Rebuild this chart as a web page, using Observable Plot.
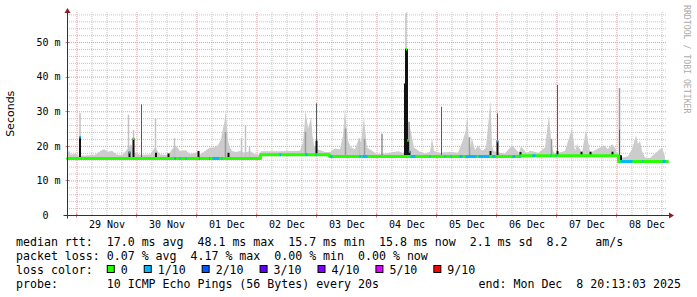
<!DOCTYPE html>
<html><head><meta charset="utf-8">
<script src="https://cdn.jsdelivr.net/npm/d3@7"></script>
<script src="https://cdn.jsdelivr.net/npm/@observablehq/plot@0.6"></script>
<style>
html,body{margin:0;padding:0;background:#fff;}
#chart svg{display:block;}
</style></head><body><div id="chart"></div>
<script>
// ---- time range ----
const startTime = new Date("2025-11-28T20:13:03Z");
const endTime = new Date("2025-12-08T20:13:03Z");

// ---- tick labels ----
const dayTicks = ["2025-11-29T12:00Z","2025-11-30T12:00Z","2025-12-01T12:00Z","2025-12-02T12:00Z","2025-12-03T12:00Z",
  "2025-12-04T12:00Z","2025-12-05T12:00Z","2025-12-06T12:00Z","2025-12-07T12:00Z","2025-12-08T12:00Z"];
const dayLabels = ["29 Nov","30 Nov","01 Dec","02 Dec","03 Dec","04 Dec","05 Dec","06 Dec","07 Dec","08 Dec"];
const yTicks = [0, 10, 20, 30, 40, 50];
const yTickLabels = ["0\u00a0\u00a0", "10 m", "20 m", "30 m", "40 m", "50 m"];

// ---- median rtt (ms), step levels, hours since start ----
const medianHours = [0, 77.2, 104.8, 181.2, 220.4, 240];
const medianValues = [16.5, 17.6, 17.05, 17.3, 15.6, 15.6];

// ---- loss 1/10 patches on the median (hours since start) ----
const blueFrom = [42.8, 44.8, 47.2, 52.6, 56.6, 58.0, 61.6, 84.8, 95.2, 99.2, 105.2, 116.8, 118.0, 137.2, 144.8, 150.8, 153.2, 156.8, 159.2, 164.4, 170.0, 178.0, 180.8, 186.0, 193.2, 195.2, 221.2, 230.0, 238.0];
const blueTo   = [43.4, 45.2, 47.6, 53.0, 57.0, 60.8, 62.0, 85.4, 96.0, 99.6, 106.0, 117.4, 120.0, 139.2, 145.2, 151.2, 153.6, 158.0, 163.6, 168.8, 171.2, 179.2, 181.2, 187.2, 193.6, 195.6, 226.0, 230.4, 239.2];

// ---- median peaks (hours, ms, loss index) ----
const peakHours = [5.0, 24.8, 26.4, 135.6, 136.2, 136.8, 172.0];
const peakValues = [22.6, 18.3, 22.2, 48.1, 21.7, 18.5, 21.5];
const peakLoss = [1, 1, 0, 0, 0, 1, 1];

// ---- smoke haze top (ms) ----
const hazeHours = [0,0.8,1.6,3.2,4.4,7.2,11.2,13.2,14.8,16.4,18,19.6,22,23.6,25.6,27.2,29.2,33.2,35.2,37.2,40.4,42,43.6,45.2,47.6,49.2,51.2,53.2,55.2,57.2,58.8,60.4,61.6,62.4,63.0,63.4,63.8,64.4,65.2,66,67.6,69.2,71.2,73.2,75.2,76.8,
  77.6,85.2,93.2,94.4,95.0,95.4,96.4,97.2,97.6,98.2,98.8,100.4,103.2,
  105.2,107.2,109.2,110.4,111.0,111.2,111.6,112.4,113.6,115.2,116.8,117.6,118.4,118.8,119.2,120.0,123.6,125.6,130.4,132.8,134.4,136.4,136.8,137.6,138.8,141.2,143.2,145.2,146,146.8,149.2,153.2,156.4,158,159.4,160.2,160.6,161.2,162,163.2,164.4,166,167.6,169.4,170,170.6,173.2,175.2,178,180.8,
  181.6,184,185.2,187.2,188.4,191.2,192.8,193.6,194.4,195.2,199.2,202,203.2,204,206,207.6,209.2,210,213.2,214.8,216.4,218,219.6,220.4,
  222,224.4,226,227.6,228.4,229.2,230,231.2,233.2,235.2,236.8,238,239.2,240];
const hazeTop = [17.3,18.8,17.4,17.8,17.2,17.2,17.4,18.4,19.0,18.3,18.6,17.6,17.3,18.5,20.5,18.0,17.4,17.5,19.5,17.6,17.3,19.0,20.0,18.5,18.7,17.6,18.0,17.5,18.5,19.5,19.5,20.2,22.0,25.0,27.0,29.9,27.5,21.5,19.5,18.5,18.2,18.5,18.0,18.5,17.6,17.4,
  18.4,18.4,18.6,21.0,26.0,30.3,25.0,27.0,28.5,23.0,20.0,19.0,18.2,
  18.2,19.2,19.0,23.0,29.0,31.0,27.0,21.5,19.5,19.0,22.2,21.0,26.0,28.4,25.0,19.5,17.8,17.6,18.2,18.4,17.8,22.0,27.0,24.0,19.5,18.3,17.8,18.3,22.2,18.5,18.0,18.2,18.0,21.0,24.0,28.9,23.0,19.5,22.2,18.8,20.2,18.4,19.5,33.2,20.0,18.5,18.0,17.8,20.2,
  18.0,19.8,17.8,18.6,18.3,17.9,19.5,28.9,22.0,18.5,17.8,18.5,25.1,18.5,20.5,18.0,24.6,18.3,18.3,19.5,20.2,19.0,20.5,19.0,
  16.4,16.6,17.0,19.0,23.0,20.5,21.5,18.5,16.6,16.5,17.8,18.8,19.5,17.0];

// ---- individual smoke spikes (hours, top ms, shade) ----
const spikeHours = [5.0,5.0,24.4,24.8,26.4,26.4,29.6,35.2,35.4,40.4,42.8,52.4,63.2,64.4,69.6,71.2,72.8,77.2,95.2,99.6,99.6,111.2,116.8,118.8,125.8,135.0,135.4,135.4,135.8,136.2,136.6,136.8,149.6,160.8,169.2,172.0,172.0,181.2,193.6,196.0,196.0,205.6,209.2,218.0,220.8,220.8,221.4];
const spikeTop   = [29.5,22.6,29.0,18.3,24.6,22.2,32.0,28.0,18.0,17.8,22.2,18.5,24.0,18.0,22.3,26.0,19.7,17.6,24.0,32.3,21.5,25.0,22.2,22.0,23.5,38.0,58.4,48.1,48.0,21.7,27.0,18.5,31.3,22.5,18.5,29.4,21.5,18.2,22.0,37.6,18.5,18.3,18.3,18.3,36.7,24.6,17.3];
const spikeShade = ["light","black","light","black","light","black","dark","light","black","black","light","black","mid","black","light","light","light","black","mid","dark","black","mid","light","mid","dark","black","light","black","black","black","mid","black","dark","mid","black","dark","black","black","mid","dark","black","black","black","black","mid","dark","black"];

// ---- legend ----
const lossLabels = ["0","1/10","2/10","3/10","4/10","5/10","9/10"];
const lossColors = ["#26ff00","#00b8ff","#0059ff","#5e00ff","#7e00ff","#dd00ff","#ff0000"];
const statLines = [
  "median rtt:  17.0 ms avg  48.1 ms max  15.7 ms min  15.8 ms now  2.1 ms sd  8.2    am/s",
  "packet loss: 0.07 % avg  4.17 % max  0.00 % min  0.00 % now"
];
const probeLine = "probe:       10 ICMP Echo Pings (56 Bytes) every 20s";
const endLine = "end: Mon Dec  8 20:13:03 2025";

// ---- build ----
const H = h => new Date(startTime.getTime() + h * 3600e3);
const baseAt = h => { let v = medianValues[0]; medianHours.forEach((mh, i) => { if (h >= mh) v = medianValues[i]; }); return v; };
const shadeColor = {light: "#c2c2c2", mid: "#9a9a9a", dark: "#5a5a5a", black: "#111111"};
const shadeWidth = {light: 1.5, mid: 1.5, dark: 1, black: 2};

const hazeData = hazeHours.map((h, i) => ({t: H(h), base: baseAt(h), top: hazeTop[i]}));
const spikeData = spikeHours.map((h, i) => ({t: H(h), base: baseAt(h), top: spikeTop[i], shade: spikeShade[i]}));
const medianData = medianHours.map((h, i) => ({t: H(h), v: medianValues[i]}));
const blueData = blueFrom.map((h, i) => ({t1: H(h), t2: H(blueTo[i]), v: baseAt(h)}));
const peakData = peakHours.map((h, i) => ({t1: H(h - 0.3), t2: H(h + 0.3), v: peakValues[i], c: lossColors[peakLoss[i]]}));

const minorY = d3.range(2, 59, 2).filter(v => v % 10 !== 0);
const majorY = [10, 20, 30, 40, 50];
const minorX = d3.utcHour.every(6).range(startTime, endTime).filter(d => d.getUTCHours() !== 0);
const majorX = d3.utcDay.range(startTime, endTime);
const dayTickDates = dayTicks.map(s => new Date(s));
const dayLabelMap = new Map(dayTickDates.map((d, i) => [+d, dayLabels[i]]));
const yLabelMap = new Map(yTicks.map((v, i) => [v, yTickLabels[i]]));

const marks = [
  Plot.ruleY(minorY, {stroke: "#c4c4c4", strokeDasharray: "1,1"}),
  Plot.ruleX(minorX, {stroke: "#c4c4c4", strokeDasharray: "1,1"}),
  Plot.ruleY(majorY, {stroke: "#e89a9a", strokeDasharray: "1,1"}),
  Plot.ruleX(majorX, {stroke: "#e89a9a", strokeDasharray: "1,1"}),
  Plot.areaY(hazeData, {x: "t", y1: "base", y2: "top", fill: "#cccccc"})
];
for (const s of ["light", "mid", "dark", "black"]) {
  marks.push(Plot.ruleX(spikeData.filter(d => d.shade === s), {x: "t", y1: "base", y2: "top", stroke: shadeColor[s], strokeWidth: shadeWidth[s]}));
}
marks.push(
  Plot.line(medianData, {x: "t", y: "v", curve: "step-after", stroke: lossColors[0], strokeWidth: 3}),
  Plot.link(blueData, {x1: "t1", x2: "t2", y1: "v", y2: "v", stroke: lossColors[1], strokeWidth: 3}),
  Plot.link(peakData, {x1: "t1", x2: "t2", y1: "v", y2: "v", stroke: "c", strokeWidth: 2.5}),
  Plot.axisY(yTicks, {tickFormat: d => yLabelMap.get(d), tickSize: 0, tickPadding: 7, fontSize: 10}),
  Plot.axisX(dayTickDates, {tickFormat: d => dayLabelMap.get(+d), tickSize: 0, tickPadding: 5, fontSize: 10})
);

const chart = Plot.plot({
  width: 697, height: 297,
  marginLeft: 67, marginRight: 30, marginTop: 12, marginBottom: 82,
  x: {type: "utc", domain: [startTime, endTime], axis: null},
  y: {domain: [0, 58.7], axis: null},
  style: {fontFamily: "DejaVu Sans Mono", fontSize: "10px", background: "#fff", color: "#000", overflow: "visible"},
  marks
});
document.getElementById("chart").appendChild(chart);

// ---- axes, arrows, labels, legend ----
const svg = d3.select(chart);
const X = chart.scale("x"), Y = chart.scale("y");
const xL = Math.round(X.apply(startTime)) + 0.5, xR = Math.round(X.apply(endTime));
const yB = Math.round(Y.apply(0)) + 0.5, yT = Math.round(Y.apply(Y.domain[1]));
const g = svg.append("g");
majorX.forEach(d => { const xx = Math.round(X.apply(d)) + 0.5;
  g.append("line").attr("x1", xx).attr("x2", xx).attr("y1", yB - 2).attr("y2", yB + 2).attr("stroke", "#d08080"); });
majorY.forEach(v => { const yy = Math.round(Y.apply(v)) + 0.5;
  g.append("line").attr("x1", xL - 2).attr("x2", xL + 2).attr("y1", yy).attr("y2", yy).attr("stroke", "#d08080"); });
g.append("line").attr("x1", xL - 4).attr("x2", xR + 3).attr("y1", yB).attr("y2", yB).attr("stroke", "#333");
g.append("line").attr("x1", xL).attr("x2", xL).attr("y1", yB + 3).attr("y2", yT - 1).attr("stroke", "#333");
g.append("path").attr("d", `M${xR + 2},${yB - 3}L${xR + 7},${yB}L${xR + 2},${yB + 3}Z`).attr("fill", "#8f1f1f");
g.append("path").attr("d", `M${xL - 3},${yT + 1}L${xL},${yT - 4}L${xL + 3},${yT + 1}Z`).attr("fill", "#8f1f1f");

const txt = svg.append("g").attr("text-anchor", "start");
txt.append("text").attr("transform", `translate(14,${(yB + yT) / 2})rotate(-90)`)
  .attr("text-anchor", "middle").attr("font-family", "DejaVu Sans").attr("font-size", 11).attr("fill", "#000").text("Seconds");
txt.append("text").attr("transform", "translate(684,5)rotate(90)").attr("text-anchor", "start")
  .attr("font-family", "DejaVu Sans Mono").attr("font-size", 8.2).attr("fill", "#aaaaaa").text("RRDTOOL / TOBI OETIKER");

const legendFont = 11.6;
const lx = 16, baselines = [245.5, 259.5, 273.5, 287.8];
const T = (x, y, s) => txt.append("text").attr("x", x).attr("y", y).attr("text-anchor", "start").attr("font-family", "DejaVu Sans Mono")
  .attr("font-size", legendFont).attr("fill", "#000").style("white-space", "pre").attr("xml:space", "preserve").text(s);
T(lx, baselines[0], statLines[0]);
T(lx, baselines[1], statLines[1]);
const lc = T(lx, baselines[2], "loss color:  ");
let cursor = lx + lc.node().getComputedTextLength();
lossLabels.forEach((lab, i) => {
  txt.append("rect").attr("x", cursor + 0.5).attr("y", baselines[2] - 8).attr("width", 7).attr("height", 7)
    .attr("fill", lossColors[i]).attr("stroke", "#000").attr("stroke-width", 1);
  const t = T(cursor + 14, baselines[2], lab);
  cursor = cursor + 14 + t.node().getComputedTextLength() + 16;
});
T(lx, baselines[3], probeLine);
T(681, baselines[3], endLine).attr("text-anchor", "end");
</script></body></html>
